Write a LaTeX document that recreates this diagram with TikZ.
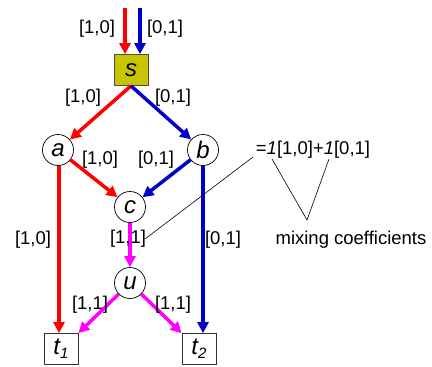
\documentclass[tikz,border=0pt]{standalone}
\usepackage{fontspec}
\setmainfont{Liberation Sans}
\usetikzlibrary{arrows.meta}
\definecolor{sfill}{RGB}{200,196,0}
\definecolor{myblue}{RGB}{0,0,200}
\definecolor{mymag}{RGB}{255,0,255}
\begin{document}
\begin{tikzpicture}[x=1pt,y=-1pt,
  lab/.style={font=\fontsize{18.5}{22}\selectfont, inner sep=0pt},
  cnode/.style={circle, draw=black, line width=0.7pt, fill=white, minimum size=31pt, inner sep=0pt, font=\fontsize{24}{27}\selectfont\itshape},
  bnode/.style={rectangle, draw=black!80, line width=0.7pt, fill=white, minimum width=34pt, minimum height=31pt, inner sep=0pt, font=\fontsize{24}{27}\selectfont\itshape},
  flow/.style={line width=3.5pt, -{Triangle[length=11pt,width=11pt]}, shorten >=0pt},
  thin/.style={line width=0.6pt, black}]
\useasboundingbox (0,0) rectangle (432,367);
% nodes
\node[bnode, fill=sfill, draw=black!70] (s) at (131,70) {s};
\node[cnode] (a) at (58,150) {a};
\node[cnode] (b) at (203,150) {b};
\node[cnode] (c) at (130,207) {c};
\node[cnode] (u) at (130,283) {u};
\node[bnode] (t1) at (61,349) {t\raisebox{-0.35ex}{\fontsize{15}{15}\selectfont 1}};
\node[bnode] (t2) at (199,349) {t\raisebox{-0.35ex}{\fontsize{15}{15}\selectfont 2}};
% incoming
\coordinate (inr) at (125,8);
\coordinate (inb) at (140,8);
\draw[flow, red] (inr) -- (inr |- s.north);
\draw[flow, myblue] (inb) -- (inb |- s.north);
% edges
\draw[flow, red] (s.south) -- (a);
\draw[flow, myblue] (s.south) -- (b);
\draw[flow, red] (a) -- (c);
\draw[flow, myblue] (b) -- (c);
\draw[flow, red] (a.south -| 59,0) -- (59,0 |- t1.north);
\draw[flow, myblue] (b.south) -- (b.south |- t2.north);
\draw[flow, mymag] (c) -- (u);
\draw[flow, mymag] (u) -- (t1.north east);
\draw[flow, mymag] (u) -- (t2.north west);
% labels
\node[lab] (l1) at (97,29) {[1,0]};
\node[lab] (l2) at (165,29) {[0,1]};
\node[lab] (l3) at (83,98) {[1,0]};
\node[lab] (l4) at (173,98) {[0,1]};
\node[lab] (l5) at (100,160) {[1,0]};
\node[lab] (l6) at (156,160) {[0,1]};
\node[lab] (l7) at (33,240) {[1,0]};
\node[lab] (l8) at (128,239) {[1,1]};
\node[lab] (l9) at (223,240) {[0,1]};
\node[lab] (l10) at (90,305) {[1,1]};
\node[lab] (l11) at (173,305) {[1,1]};
% annotation
\node[lab] (eq) at (313,150) {=\textit{1}[1,0]+\textit{1}[0,1]};
\node[lab] (mix) at (351,240) {mixing coefficients};
\coordinate (e1) at (253,157);
\coordinate (e2) at (145,239);
\draw[thin] (e1) -- (e2);
\coordinate (m0) at (307,220);
\coordinate (m1) at (272,159);
\coordinate (m2) at (329,159);
\draw[thin] (m1) -- (m0) -- (m2);
\end{tikzpicture}
\end{document}
